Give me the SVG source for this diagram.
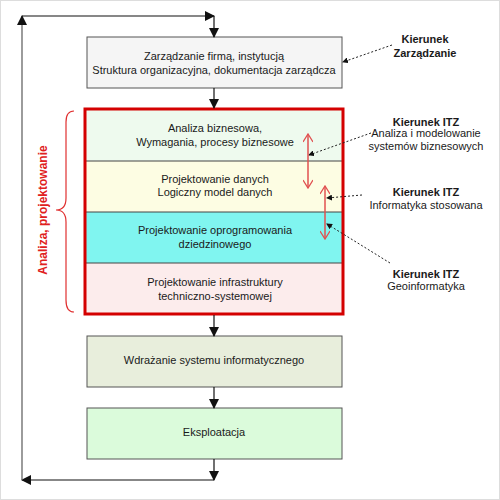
<svg xmlns="http://www.w3.org/2000/svg" width="500" height="500" viewBox="0 0 500 500">
<defs>
<style>
.t{font-family:"Liberation Sans",Arial,sans-serif;font-size:11px;fill:#1a1a1a;text-anchor:middle}
.b{font-weight:bold}
.box{stroke:#555;stroke-width:1}
.flow{stroke:#111;stroke-width:1.2;fill:none}
.dot{stroke:#222;stroke-width:1;stroke-dasharray:2,2;fill:none}
.red{stroke:#e05050;stroke-width:1.5;fill:none}
</style>
<marker id="ah" markerWidth="10" markerHeight="10" refX="9" refY="5" orient="auto" markerUnits="userSpaceOnUse">
<path d="M0,0 L10,5 L0,10 Z" fill="#111"/>
</marker>
<marker id="sa" markerWidth="6" markerHeight="6" refX="5" refY="3" orient="auto" markerUnits="userSpaceOnUse">
<path d="M0,0 L6,3 L0,6 Z" fill="#111"/>
</marker>
<marker id="ra" markerWidth="10" markerHeight="10" refX="9" refY="5" orient="auto-start-reverse" markerUnits="userSpaceOnUse">
<path d="M1,0 L9,5 L1,10" fill="none" stroke="#e05050" stroke-width="1.3"/>
</marker>
</defs>
<rect x="0.5" y="0.5" width="499" height="499" fill="#fff" stroke="#ddd"/>

<g id="n-zarzadzanie">
<rect class="box" x="87" y="37" width="255" height="51" fill="#f5f5f5"/>
<text class="t" x="214" y="60">Zarządzanie firmą, instytucją</text>
<text class="t" x="214" y="74">Struktura organizacyjna, dokumentacja zarządcza</text>
</g>

<g id="n-analiza">
<rect x="86" y="110" width="257" height="51" fill="#eefaee"/>
<text class="t" x="215" y="132">Analiza biznesowa,</text>
<text class="t" x="215" y="146">Wymagania, procesy biznesowe</text>
</g>
<g id="n-dane">
<rect x="86" y="161" width="257" height="51" fill="#fdfde3"/>
<text class="t" x="215" y="183">Projektowanie danych</text>
<text class="t" x="215" y="196">Logiczny model danych</text>
</g>
<g id="n-oprog">
<rect x="86" y="212" width="257" height="51" fill="#80f5f0"/>
<text class="t" x="215" y="234">Projektowanie oprogramowania</text>
<text class="t" x="215" y="248">dziedzinowego</text>
</g>
<g id="n-infra">
<rect x="86" y="263" width="257" height="51" fill="#fcecec"/>
<text class="t" x="215" y="286">Projektowanie infrastruktury</text>
<text class="t" x="215" y="300">techniczno-systemowej</text>
</g>
<g id="separators">
<line x1="86" y1="161" x2="343" y2="161" stroke="#444"/>
<line x1="86" y1="212" x2="343" y2="212" stroke="#444"/>
<line x1="86" y1="263" x2="343" y2="263" stroke="#444"/>
</g>
<g id="c-analiza-proj">
<rect x="85" y="109" width="258" height="205" fill="none" stroke="#d40000" stroke-width="3"/>
<path d="M74,111 Q66,111 66,122 L66,198 Q66,210 56,210 Q66,210 66,222 L66,300 Q66,312 74,312" fill="none" stroke="#e03030" stroke-width="1.2"/>
<text class="t b" x="43" y="210" transform="rotate(-90 43 210)" dy="4" style="fill:#e02020;font-size:12px">Analiza, projektowanie</text>
</g>

<g id="n-wdrazanie">
<rect class="box" x="87" y="336" width="255" height="51" fill="#e8eedc"/>
<text class="t" x="214" y="364">Wdrażanie systemu informatycznego</text>
</g>
<g id="n-eksploatacja">
<rect class="box" x="87" y="408" width="255" height="51" fill="#dbfbdb"/>
<text class="t" x="214" y="436">Eksploatacja</text>
</g>

<g id="l-zarz">
<text class="t b" x="425" y="43">Kierunek</text>
<text class="t b" x="425" y="57">Zarządzanie</text>
</g>
<g id="l-itz1">
<text class="t b" x="426" y="126">Kierunek ITZ</text>
<text class="t" x="426" y="137">Analiza i modelowanie</text>
<text class="t" x="426" y="150">systemów biznesowych</text>
</g>
<g id="l-itz2">
<text class="t b" x="426" y="196">Kierunek ITZ</text>
<text class="t" x="426" y="209">Informatyka stosowana</text>
</g>
<g id="l-itz3">
<text class="t b" x="426" y="278">Kierunek ITZ</text>
<text class="t" x="426" y="290">Geoinformatyka</text>
</g>

<g id="connectors">
<line class="flow" x1="214" y1="16" x2="214" y2="37" marker-end="url(#ah)"/>
<line class="flow" x1="214" y1="88" x2="214" y2="108" marker-end="url(#ah)"/>
<line class="flow" x1="214" y1="315" x2="214" y2="336" marker-end="url(#ah)"/>
<line class="flow" x1="214" y1="387" x2="214" y2="408" marker-end="url(#ah)"/>
<line class="flow" x1="214" y1="459" x2="214" y2="480" marker-end="url(#ah)"/>
<line class="flow" x1="214" y1="480" x2="22" y2="480" marker-end="url(#ah)"/>
<line x1="22" y1="480" x2="22" y2="16" stroke="#666" stroke-width="1.3" marker-end="url(#ah)"/>
<line class="flow" x1="22" y1="16" x2="214" y2="16" marker-end="url(#ah)"/>
<line class="dot" x1="392" y1="45" x2="343" y2="62" marker-end="url(#sa)"/>
<line class="dot" x1="371" y1="133" x2="309" y2="155" marker-end="url(#sa)"/>
<line class="dot" x1="362" y1="195" x2="327" y2="198" marker-end="url(#sa)"/>
<line class="dot" x1="390" y1="263" x2="327" y2="224" marker-end="url(#sa)"/>
<line class="red" x1="308" y1="134" x2="308" y2="188" marker-start="url(#ra)" marker-end="url(#ra)"/>
<line class="red" x1="325" y1="186" x2="325" y2="239" marker-start="url(#ra)" marker-end="url(#ra)"/>
</g>
</svg>
